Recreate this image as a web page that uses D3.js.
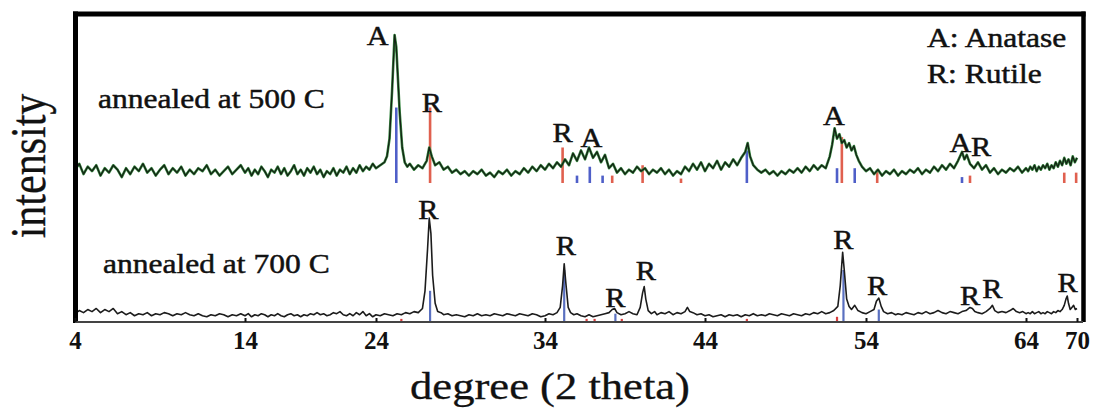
<!DOCTYPE html>
<html>
<head>
<meta charset="utf-8">
<script src="https://cdn.jsdelivr.net/npm/d3@7"></script>
<style>
  html, body { margin: 0; padding: 0; background: #fff; }
  svg { display: block; }
</style>
</head>
<body>
<svg id="chart" width="1101" height="411"></svg>
<script>
// ---------- DATA ----------
const tickValues = [4, 14, 24, 34, 44, 54, 64, 70];

// XRD pattern, annealed at 500 C : [2theta, intensity]
const trace500 = [
[4.00,9],[4.25,13],[4.5,6],[4.75,11],[5.0,8],[5.25,12],[5.5,5],[5.75,10],[6.0,7],[6.25,12],[6.5,9],[6.75,4],
[7.0,10],[7.25,6],[7.5,11],[7.75,8],[8.0,13],[8.25,7],[8.5,10],[8.75,5],[9.0,9],[9.25,12],[9.5,6],[9.75,10],
[10.0,7],[10.25,11],[10.5,5],[10.75,9],[11.0,6],[11.25,10],[11.5,8],[11.75,12],[12.0,6],[12.25,9],[12.5,5],[12.75,8],
[13.0,11],[13.25,6],[13.5,9],[13.75,12],[14.0,7],[14.25,10],[14.5,5],[14.75,9],[15.0,6],[15.25,11],[15.5,8],[15.75,4],
[16.0,9],[16.25,7],[16.5,11],[16.75,6],[17.0,10],[17.25,5],[17.5,8],[17.75,12],[18.0,6],[18.25,9],[18.5,5],[18.75,10],
[19.0,7],[19.25,11],[19.5,6],[19.75,9],[20.0,4],[20.25,8],[20.5,6],[20.75,10],[21.0,5],[21.25,9],[21.5,7],[21.75,11],
[22.0,6],[22.25,10],[22.5,7],[22.75,12],[23.0,8],[23.25,11],[23.5,9],[23.75,13],[24.0,10],[24.25,12],[24.5,14],[24.65,18],
[24.8,30],[24.95,62],[25.1,100],[25.2,92],[25.3,70],[25.4,48],[25.55,24],[25.7,14],[25.85,11],[26.0,13],[26.25,9],[26.5,12],
[26.75,10],[27.0,15],[27.15,24],[27.3,18],[27.5,12],[27.75,14],[28.0,9],[28.25,11],[28.5,7],[28.75,9],[29.0,6],[29.25,8],
[29.5,5],[29.75,8],[30.0,6],[30.25,9],[30.5,5],[30.75,7],[31.0,4],[31.25,8],[31.5,6],[31.75,9],[32.0,5],[32.25,8],
[32.5,6],[32.75,10],[33.0,7],[33.25,11],[33.5,8],[33.75,12],[34.0,9],[34.25,13],[34.5,10],[34.75,14],[35.0,11],[35.25,16],
[35.5,12],[35.75,20],[36.0,15],[36.25,22],[36.5,16],[36.75,24],[37.0,17],[37.25,21],[37.5,14],[37.75,19],[38.0,10],[38.25,13],
[38.5,7],[38.75,10],[39.0,6],[39.25,9],[39.5,7],[39.75,11],[40.0,8],[40.25,10],[40.5,6],[40.75,9],[41.0,7],[41.25,10],
[41.5,6],[41.75,9],[42.0,5],[42.25,8],[42.5,6],[42.75,11],[43.0,8],[43.25,13],[43.5,9],[43.75,14],[44.0,8],[44.25,13],
[44.5,10],[44.75,15],[45.0,9],[45.25,14],[45.5,11],[45.75,16],[46.0,12],[46.25,17],[46.5,21],[46.65,27],[46.8,18],[47.0,12],
[47.25,9],[47.5,7],[47.75,9],[48.0,6],[48.25,8],[48.5,5],[48.75,8],[49.0,6],[49.25,9],[49.5,7],[49.75,10],[50.0,7],
[50.25,11],[50.5,8],[50.75,12],[51.0,9],[51.25,12],[51.5,10],[51.75,18],[51.9,26],[52.05,37],[52.2,30],[52.35,33],[52.5,27],
[52.65,29],[52.8,24],[52.95,27],[53.1,22],[53.25,25],[53.4,19],[53.55,15],[53.75,11],[54.0,8],[54.25,10],[54.5,6],[54.75,9],
[55.0,5],[55.25,8],[55.5,6],[55.75,9],[56.0,5],[56.25,8],[56.5,6],[56.75,9],[57.0,7],[57.25,10],[57.5,6],[57.75,9],
[58.0,7],[58.25,11],[58.5,8],[58.75,12],[59.0,9],[59.25,13],[59.5,10],[59.75,15],[60.0,21],[60.15,16],[60.3,19],[60.5,13],
[60.75,10],[61.0,14],[61.25,9],[61.5,12],[61.75,7],[62.0,10],[62.25,6],[62.5,9],[62.75,7],[63.0,10],[63.25,8],[63.5,11],
[63.75,7],[64.0,10],[64.25,8],[64.5,11],[64.75,9],[65.0,12],[65.25,8],[65.5,11],[65.75,9],[66.0,12],[66.25,10],[66.5,13],
[66.75,9],[67.0,12],[67.25,10],[67.5,14],[67.75,11],[68.0,15],[68.25,12],[68.5,17],[68.75,13],[69.0,16],[69.25,12],[69.5,18],
[69.75,14],[70.0,17]
];

// XRD pattern, annealed at 700 C : [2theta, intensity]
const trace700 = [
[4.0,8],[4.25,11],[4.5,9],[4.75,12],[5.0,10],[5.25,13],[5.5,9],[5.75,12],[6.0,10],[6.25,13],[6.5,8],[6.75,10],
[7.0,7],[7.25,9],[7.5,6],[7.75,8],[8.0,7],[8.25,9],[8.5,6],[8.75,8],[9.0,7],[9.25,9],[9.5,8],[9.75,6],
[10.0,8],[10.25,7],[10.5,9],[10.75,7],[11.0,6],[11.25,8],[11.5,6],[11.75,5],[12.0,7],[12.25,6],[12.5,8],[12.75,7],
[13.0,5],[13.25,7],[13.5,6],[13.75,8],[14.0,6],[14.25,8],[14.5,5],[14.75,7],[15.0,6],[15.25,8],[15.5,7],[15.75,5],
[16.0,7],[16.25,6],[16.5,8],[16.75,6],[17.0,5],[17.25,7],[17.5,8],[17.75,6],[18.0,7],[18.25,5],[18.5,7],[18.75,6],
[19.0,8],[19.25,7],[19.5,9],[19.75,7],[20.0,8],[20.25,6],[20.5,7],[20.75,9],[21.0,8],[21.25,10],[21.5,7],[21.75,6],
[22.0,8],[22.25,6],[22.5,9],[22.75,7],[23.0,10],[23.25,6],[23.5,8],[23.75,5],[24.0,7],[24.25,6],[24.5,8],[24.75,7],
[25.0,6],[25.25,8],[25.5,7],[25.75,9],[26.0,8],[26.25,10],[26.5,9],[26.75,13],[26.9,30],[27.05,70],[27.15,100],[27.25,85],
[27.35,45],[27.5,18],[27.65,10],[27.85,9],[28.0,7],[28.25,8],[28.5,6],[28.75,7],[29.0,6],[29.25,5],[29.5,7],[29.75,6],
[30.0,8],[30.25,6],[30.5,7],[30.75,6],[31.0,8],[31.25,7],[31.5,6],[31.75,8],[32.0,7],[32.25,6],[32.5,8],[32.75,7],
[33.0,6],[33.25,8],[33.5,7],[33.75,5],[34.0,6],[34.25,8],[34.5,7],[34.75,9],[34.95,14],[35.1,35],[35.2,56],[35.3,38],
[35.45,14],[35.6,9],[35.8,7],[36.0,8],[36.25,6],[36.5,5],[36.75,7],[37.0,5],[37.25,6],[37.5,7],[37.75,8],[38.0,9],
[38.2,12],[38.35,13],[38.5,9],[38.75,7],[39.0,8],[39.25,10],[39.5,8],[39.75,7],[39.95,14],[40.1,28],[40.2,34],[40.3,22],
[40.45,11],[40.65,8],[40.85,10],[41.0,7],[41.25,9],[41.5,8],[41.75,10],[42.0,7],[42.25,9],[42.5,8],[42.75,10],[42.9,14],
[43.05,10],[43.25,9],[43.5,7],[43.75,8],[44.0,6],[44.25,7],[44.5,5],[44.75,6],[45.0,7],[45.25,5],[45.5,7],[45.75,6],
[46.0,7],[46.25,5],[46.5,7],[46.75,6],[47.0,8],[47.25,6],[47.5,7],[47.75,6],[48.0,8],[48.25,7],[48.5,6],[48.75,8],
[49.0,7],[49.25,6],[49.5,8],[49.75,7],[50.0,6],[50.25,8],[50.5,7],[50.75,9],[51.0,8],[51.25,10],[51.5,8],[51.75,9],
[52.0,11],[52.25,15],[52.4,35],[52.55,67],[52.65,50],[52.8,22],[52.95,15],[53.1,12],[53.3,16],[53.5,11],[53.75,9],[54.0,8],
[54.25,10],[54.5,12],[54.65,20],[54.8,23],[54.95,15],[55.1,10],[55.35,8],[55.6,9],[55.85,7],[56.0,8],[56.25,7],[56.5,9],
[56.75,8],[57.0,7],[57.25,9],[57.5,8],[57.75,10],[58.0,8],[58.25,9],[58.5,11],[58.75,9],[59.0,8],[59.25,10],[59.5,9],
[59.75,8],[60.0,10],[60.25,11],[60.5,14],[60.65,13],[60.8,10],[61.0,9],[61.25,8],[61.5,10],[61.75,13],[61.9,16],[62.05,11],
[62.25,9],[62.5,10],[62.75,9],[63.0,11],[63.2,13],[63.4,10],[63.6,9],[63.8,10],[64.0,8],[64.25,9],[64.5,8],[64.75,10],
[65.0,8],[65.25,9],[65.5,10],[65.75,8],[66.0,9],[66.25,8],[66.5,10],[66.75,9],[67.0,8],[67.25,10],[67.5,9],[67.75,11],
[68.0,10],[68.25,12],[68.5,16],[68.7,22],[68.85,25],[69.0,18],[69.2,12],[69.4,14],[69.6,16],[69.8,12],[70.0,13]
];

// reference line positions (500 C panel): [2theta, relative intensity]
const anataseRef500 = [[25.2,51],[36.0,5],[36.8,11],[37.6,5],[46.6,22],[52.2,10],[53.3,10],[60.0,4]];
const rutileRef500  = [[27.2,51],[35.1,24],[38.2,5],[40.1,12],[42.5,3],[52.5,31],[54.7,9],[60.5,5],[68.5,7],[69.9,7]];
// reference lines (700 C panel)
const blueRef700 = [[27.2,30],[35.2,50],[38.4,8],[52.6,50],[54.8,12]];
const redRef700  = [[25.5,3],[36.6,3],[37.1,3],[38.8,3],[46.6,3],[52.2,5]];

// peak labels: [text, 2theta, intensity]
const labels500 = [["A",24.1,93],["R",27.3,48],["R",35.1,28],["A",36.9,24],["A",52.0,39],["A",59.9,21],["R",61.2,18]];
const labels700 = [["R",27.1,99],["R",35.3,64],["R",38.4,14],["R",40.3,40],["R",52.6,70],["R",54.7,26],["R",60.5,16],["R",61.9,23],["R",68.9,29]];

const legendLines = ["A: Anatase", "R: Rutile"];
const panelTitles = ["annealed at 500 C", "annealed at 700 C"];
const xTitle = "degree (2 theta)";
const yTitle = "intensity";

// ---------- DRAW ----------
const svg = d3.select("#chart");
const FONT = "'Liberation Serif','Times New Roman',serif";
const SX = 1.19; // horizontal stretch of the original figure's lettering

// the original axis labels are not evenly spaced: piecewise linear scale
const x = d3.scaleLinear().domain(tickValues).range([75, 245, 376, 545, 705, 866, 1026, 1077]);
const yTop = d3.scaleLinear().domain([0, 100]).range([183, 35]);
const yBot = d3.scaleLinear().domain([0, 100]).range([322, 218]);

function stext(g, px, py, str, size, opts = {}) {
  const gg = g.append("g").attr("transform",
    `translate(${px},${py}) scale(${opts.sx || SX},1)` + (opts.rot ? ` rotate(${opts.rot})` : ""));
  return gg.append("text")
    .attr("x", 0).attr("y", 0)
    .attr("text-anchor", opts.anchor || "start")
    .attr("font-family", FONT)
    .attr("font-size", size)
    .attr("font-weight", opts.weight || "normal")
    .attr("fill", "#111")
    .attr("stroke", "#111")
    .attr("stroke-width", opts.sw === undefined ? 0.45 : opts.sw)
    .text(str);
}

// reference sticks
const sticks = svg.append("g");
function drawSticks(data, yScale, color, w) {
  sticks.selectAll(null).data(data).enter().append("line")
    .attr("x1", d => x(d[0])).attr("x2", d => x(d[0]))
    .attr("y1", yScale(0)).attr("y2", d => yScale(d[1]))
    .attr("stroke", color).attr("stroke-width", w);
}
drawSticks(anataseRef500, yTop, "#4f5fc8", 2.6);
drawSticks(rutileRef500, yTop, "#e0604f", 2.6);
drawSticks(blueRef700, yBot, "#5a70c0", 2.2);
drawSticks(redRef700, yBot, "#d84040", 2.2);

// traces
const lineTop = d3.line().x(d => x(d[0])).y(d => yTop(d[1]));
const lineBot = d3.line().x(d => x(d[0])).y(d => yBot(d[1]));
svg.append("path").datum(trace500).attr("d", lineTop)
  .attr("fill", "none").attr("stroke", "#3a8a44").attr("stroke-width", 2.6).attr("stroke-linejoin", "round");
svg.append("path").datum(trace500).attr("d", lineTop)
  .attr("fill", "none").attr("stroke", "#142214").attr("stroke-width", 1.3).attr("stroke-linejoin", "round");
svg.append("path").datum(trace700).attr("d", lineBot)
  .attr("fill", "none").attr("stroke", "#1c1c1c").attr("stroke-width", 1.6).attr("stroke-linejoin", "round");

// frame
const frame = svg.append("g").attr("stroke", "#000").attr("fill", "none");
frame.append("line").attr("x1", 75.5).attr("x2", 75.5).attr("y1", 11.5).attr("y2", 323).attr("stroke-width", 5);
frame.append("line").attr("x1", 73).attr("x2", 1085.5).attr("y1", 14).attr("y2", 14).attr("stroke-width", 5);
frame.append("line").attr("x1", 1083.5).attr("x2", 1083.5).attr("y1", 11.5).attr("y2", 322).attr("stroke-width", 4.5);

// x axis
const axis = d3.axisBottom(x).tickValues(tickValues).tickSizeInner(-4).tickSizeOuter(0).tickFormat(d3.format("d"));
const ax = svg.append("g").attr("transform", "translate(0,322)").call(axis);
ax.select(".domain").attr("d", "M75,0H1083").attr("stroke", "#444").attr("stroke-width", 2);
ax.selectAll(".tick line").attr("stroke", "#111").attr("stroke-width", 2);
ax.selectAll(".tick text")
  .attr("y", 27).attr("dy", 0)
  .attr("font-family", FONT).attr("font-size", 25).attr("font-weight", "bold").attr("fill", "#111");

// panel titles
stext(svg, 98, 108, panelTitles[0], 26.5);
stext(svg, 103, 273, panelTitles[1], 26.5);

// legend
stext(svg, 927, 47, legendLines[0], 26.5);
stext(svg, 927, 83, legendLines[1], 26.5);

// peak labels
labels500.forEach(l => stext(svg, x(l[1]), yTop(l[2]), l[0], 27, { anchor: "middle", sx: 1.12 }));
labels700.forEach(l => stext(svg, x(l[1]), yBot(l[2]), l[0], 27, { anchor: "middle", sx: 1.12 }));

// axis titles
stext(svg, 550, 399, xTitle, 37.5, { anchor: "middle", sw: 0.3 });
stext(svg, 45, 166, yTitle, 42, { anchor: "middle", rot: -90, sw: 0.3 });
</script>
</body>
</html>
